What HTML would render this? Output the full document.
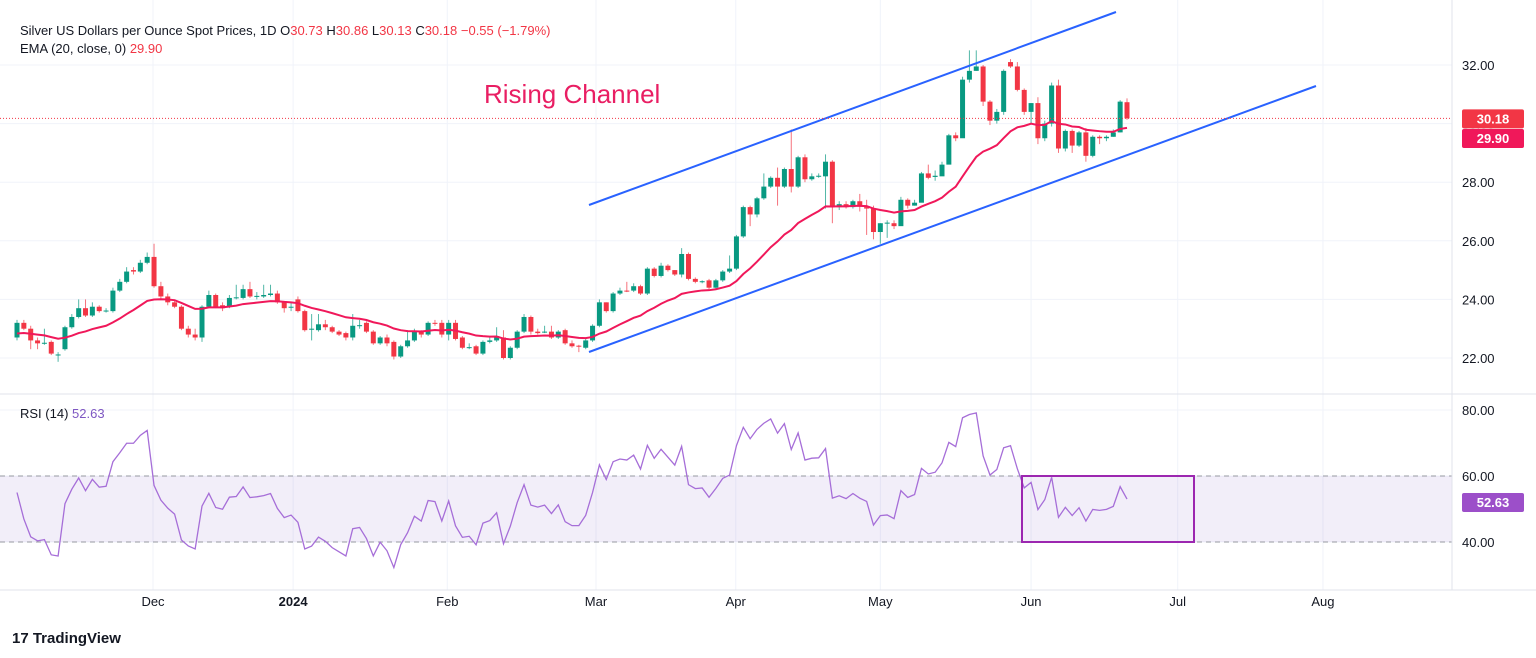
<!DOCTYPE html>
<html><head><meta charset="utf-8">
<style>
body{margin:0;background:#fff;font-family:"Liberation Sans",sans-serif;}
svg{display:block}
text{font-family:"Liberation Sans",sans-serif;}
</style></head>
<body>
<svg id="chart" width="1536" height="658" viewBox="0 0 1536 658">
<rect x="0" y="0" width="1536" height="658" fill="#fff"/>
<g id="grid"></g>
<g id="rsiband"></g>
<g id="candles"></g>
<g id="ema"></g>
<g id="rsi"></g>
<g id="overlay"></g>
<g id="axes"></g>
</svg>
<script>
// ---- data ----
const opens  =[22.7,23.2,23.0,22.6,22.5,22.55,22.1,22.3,23.05,23.4,23.7,23.45,23.75,23.6,23.6,24.3,24.6,25.0,24.95,25.25,25.45,24.45,24.1,23.9,23.75,23.0,22.8,22.7,23.75,24.15,23.8,23.75,24.05,24.05,24.35,24.1,24.1,24.15,24.2,23.9,23.72,24.0,23.6,23.0,22.95,23.15,23.05,22.9,22.85,22.7,23.1,23.2,22.9,22.5,22.7,22.55,22.05,22.4,22.6,22.9,22.8,23.2,23.2,22.8,23.2,22.7,22.35,22.4,22.15,22.55,22.6,22.7,22.0,22.35,22.9,23.4,22.9,22.88,22.9,22.7,22.95,22.5,22.42,22.35,22.6,23.1,23.9,23.6,24.2,24.3,24.3,24.45,24.2,25.05,24.8,25.15,25.0,24.85,25.55,24.7,24.6,24.65,24.4,24.65,24.95,25.05,26.15,27.15,26.9,27.45,27.85,28.15,27.85,28.45,27.85,28.85,28.1,28.2,28.2,28.7,27.15,27.25,27.15,27.35,27.15,27.1,26.3,26.6,26.6,26.5,27.4,27.2,27.3,28.3,28.18,28.2,28.6,29.6,29.5,31.5,31.8,31.95,30.75,30.1,30.4,32.1,31.95,31.15,30.4,30.7,29.5,30.0,31.3,29.15,29.75,29.25,29.7,28.9,29.55,29.5,29.55,29.7,30.73];
const closes =[23.2,23.0,22.6,22.5,22.52,22.15,22.12,23.05,23.4,23.7,23.45,23.75,23.6,23.62,24.3,24.6,24.95,24.95,25.25,25.45,24.45,24.1,23.9,23.75,23.0,22.8,22.7,23.75,24.15,23.75,23.7,24.05,24.07,24.35,24.1,24.12,24.15,24.2,23.9,23.7,23.75,23.6,22.95,23.0,23.15,23.05,22.9,22.8,22.7,23.1,23.12,22.9,22.5,22.7,22.5,22.05,22.4,22.6,22.9,22.8,23.2,23.18,22.8,23.2,22.65,22.35,22.37,22.15,22.55,22.6,22.75,22.0,22.35,22.9,23.4,22.9,22.85,22.9,22.7,22.9,22.5,22.4,22.4,22.6,23.1,23.9,23.6,24.2,24.3,24.28,24.45,24.2,25.05,24.8,25.15,25.0,24.85,25.55,24.7,24.6,24.62,24.4,24.65,24.95,25.05,26.15,27.15,26.9,27.45,27.85,28.15,27.85,28.45,27.85,28.85,28.1,28.2,28.22,28.7,27.15,27.25,27.15,27.35,27.2,27.1,26.3,26.6,26.62,26.5,27.4,27.2,27.3,28.3,28.15,28.22,28.6,29.6,29.5,31.5,31.8,31.95,30.75,30.1,30.4,31.8,31.95,31.15,30.4,30.7,29.5,30.0,31.3,29.15,29.75,29.25,29.7,28.9,29.55,29.5,29.55,29.7,30.75,30.18];
const highs  =[23.3,23.3,23.1,22.7,23.0,22.6,22.2,23.1,23.5,24.0,24.0,23.9,23.8,23.7,24.4,24.7,25.1,25.1,25.35,25.6,25.9,24.6,24.2,23.95,23.8,23.1,23.0,23.8,24.3,24.2,23.9,24.15,24.5,24.5,24.6,24.25,24.5,24.5,24.3,23.95,23.9,24.1,23.65,23.5,23.5,23.3,23.1,22.95,22.9,23.5,23.3,23.25,22.95,22.75,22.8,22.6,22.45,22.95,23.0,22.95,23.25,23.3,23.3,23.3,23.3,22.75,22.5,22.45,22.6,22.75,23.05,22.95,22.4,22.95,23.5,23.45,23.0,23.1,23.1,22.95,23.0,22.6,22.45,22.65,23.15,24.0,23.9,24.25,24.4,24.6,24.55,24.5,25.1,25.1,25.25,25.2,25.0,25.75,25.6,24.75,24.65,24.7,24.7,25.0,25.5,26.2,27.2,27.2,27.5,28.3,28.2,28.5,28.5,29.8,28.9,28.95,28.3,28.3,28.95,28.75,27.35,27.35,27.4,27.6,27.4,27.2,26.6,26.7,26.7,27.5,27.45,27.4,28.35,28.6,28.4,28.7,29.65,29.7,31.6,32.5,32.5,32.0,30.8,30.5,31.85,32.2,32.1,31.2,30.7,30.9,30.1,31.4,31.5,29.8,29.8,29.75,29.85,29.6,29.6,29.6,29.8,30.8,30.86];
const lows   =[22.6,22.95,22.3,22.3,22.45,22.1,21.87,22.25,23.0,23.35,23.4,23.4,23.55,23.55,23.55,24.25,24.55,24.85,24.9,25.2,24.4,24.0,23.8,23.7,22.95,22.7,22.6,22.55,23.7,23.7,23.6,23.7,24.0,24.0,24.05,24.0,24.05,24.1,23.85,23.55,23.6,23.55,22.9,22.6,22.9,22.95,22.85,22.75,22.6,22.6,23.0,22.85,22.45,22.45,22.4,21.95,22.0,22.35,22.55,22.7,22.75,23.1,22.7,22.6,22.6,22.3,22.3,22.1,22.1,22.5,22.55,21.95,21.95,22.3,22.85,22.8,22.8,22.85,22.65,22.65,22.45,22.35,22.2,22.3,22.55,23.05,23.55,23.55,24.15,24.25,24.25,24.15,24.15,24.75,24.75,24.95,24.8,24.75,24.65,24.55,24.55,24.35,24.35,24.6,24.9,25.0,26.1,26.5,26.8,27.4,27.8,27.2,27.8,27.65,27.8,28.0,28.05,28.15,27.1,26.6,27.05,27.1,27.1,27.0,26.2,26.05,25.9,26.1,26.4,27.15,27.1,27.2,28.05,28.1,28.05,28.5,29.4,29.4,30.2,31.4,31.8,30.6,29.95,30.0,30.3,31.9,31.1,30.3,30.0,29.3,29.4,29.9,29.0,29.05,29.0,29.2,28.7,28.85,29.3,29.4,29.55,29.7,30.13];
const priceTicks=[22,24,26,28,30,32];
const rsiTicks=[40,60,80];
const monthLabels=["Dec","2024","Feb","Mar","Apr","May","Jun","Jul","Aug"];
const monthDayIdx=[19.85,40.3,62.8,84.5,104.9,126,148,169.4,190.6]; // bar index of each month start

// ---- scales ----
const X0=17,X1=1127;
const n=closes.length;
function xs(i){return X0+i*(X1-X0)/(n-1);}
function yp(p){return 65+(32-p)*29.3;}
function yr(r){return 410+(80-r)*3.3;}
const NS="http://www.w3.org/2000/svg";
function mk(tag,attrs,parent){const e=document.createElementNS(NS,tag);for(const k in attrs)e.setAttribute(k,attrs[k]);parent.appendChild(e);return e;}
const G=id=>document.getElementById(id);

// grid
const grid=G('grid');
priceTicks.forEach(t=>{const l=mk('line',{x1:0,x2:1452,y1:yp(t),y2:yp(t),stroke:'#f0f3fa','stroke-width':1},grid);

});
rsiTicks.forEach(t=>{const l=mk('line',{x1:0,x2:1452,y1:yr(t),y2:yr(t),stroke:'#f0f3fa','stroke-width':1},grid);

});
monthDayIdx.forEach(i=>{const x=xs(i);const l=mk('line',{x1:x,x2:x,y1:0,y2:590,stroke:'#f0f3fa','stroke-width':1},grid);

});

// rsi band
const band=G('rsiband');
const bf=mk('rect',{x:0,y:yr(60),width:1452,height:yr(40)-yr(60),fill:'#7e57c2','fill-opacity':0.1},band);


[60,40].forEach(v=>{const l=mk('line',{x1:0,x2:1452,y1:yr(v),y2:yr(v),stroke:'#9598a1','stroke-dasharray':'5,4','stroke-width':1},band);

});

// candles
const cg=G('candles');
for(let i=0;i<n;i++){
  const up=closes[i]>=opens[i];const col=up?'#089981':'#f23645';const x=xs(i);
  const w=mk('line',{x1:x,x2:x,y1:yp(highs[i]),y2:yp(lows[i]),stroke:col,'stroke-opacity':0.7,'stroke-width':1},cg);
  
  
  const t=yp(Math.max(opens[i],closes[i])),b=yp(Math.min(opens[i],closes[i]));
  const r=mk('rect',{x:x-2.5,y:t,width:5,height:Math.max(1,b-t),fill:col},cg);
  
  
}
// EMA 20
const k=2/21;let e=22.8;const ema=[];
closes.forEach(c=>{e=c*k+e*(1-k);ema.push(e);});
const ep=mk('polyline',{points:ema.map((v,i)=>xs(i)+','+yp(v)).join(' '),fill:'none',stroke:'#f0185a','stroke-width':2},G('ema'));


// RSI 14
let ag=0.12,al=0.12;const rsi=[55];
for(let i=1;i<n;i++){const d=closes[i]-closes[i-1];ag=(ag*13+Math.max(d,0))/14;al=(al*13+Math.max(-d,0))/14;rsi.push(100-100/(1+ag/al));}
const rp=mk('polyline',{points:rsi.map((v,i)=>xs(i)+','+yr(v)).join(' '),fill:'none',stroke:'#a66ed8','stroke-width':1.3},G('rsi'));



// overlays
const ov=G('overlay');
const up1=mk('line',{x1:589,y1:205,x2:1116,y2:12,stroke:'#2962ff','stroke-width':2},ov);


const lo1=mk('line',{x1:589,y1:352,x2:1316,y2:86,stroke:'#2962ff','stroke-width':2},ov);


const pl=mk('line',{x1:0,x2:1452,y1:yp(30.18),y2:yp(30.18),stroke:'#f23645','stroke-dasharray':'1,2','stroke-width':1},ov);


const box=mk('rect',{x:1022,y:yr(60),width:172,height:yr(40)-yr(60),fill:'none',stroke:'#9c27b0','stroke-width':2},ov);


const rc=mk('text',{x:484,y:103,'font-size':26,fill:'#e91e63'},ov);rc.textContent='Rising Channel';



// axes
const ax=G('axes');
const sep=mk('line',{x1:0,x2:1536,y1:394,y2:394,stroke:'#e0e3eb','stroke-width':1},ax);


const sep2=mk('line',{x1:1452,x2:1452,y1:0,y2:590,stroke:'#e0e3eb','stroke-width':1},ax);


const sep3=mk('line',{x1:0,x2:1536,y1:590,y2:590,stroke:'#e0e3eb','stroke-width':1},ax);


priceTicks.forEach(t=>{const tx=mk('text',{x:1462,y:yp(t)+5,'font-size':13,fill:'#131722'},ax);tx.textContent=t.toFixed(2);

});
rsiTicks.forEach(t=>{const tx=mk('text',{x:1462,y:yr(t)+5,'font-size':13,fill:'#131722'},ax);tx.textContent=t.toFixed(2);

});
monthLabels.forEach((m,j)=>{const tx=mk('text',{x:xs(monthDayIdx[j]),y:606,'font-size':13,fill:'#131722','text-anchor':'middle','font-weight':m==='2024'?'bold':'normal'},ax);tx.textContent=m;

});
function tag(y,txt,col,name){const r=mk('rect',{x:1462,y:y-9,width:62,height:19,rx:2,fill:col},ax);


const t=mk('text',{x:1493,y:y+5,'font-size':13,fill:'#fff','text-anchor':'middle','font-weight':'bold'},ax);t.textContent=txt;}
tag(yp(30.18),'30.18','#f23645','last-price-tag');
tag(138,'29.90','#f0185a','ema-value-tag');
tag(502,'52.63','#9c4fc9','rsi-value-tag');

// header
const h1=mk('text',{x:20,y:35,'font-size':13,fill:'#131722'},ax);
h1.innerHTML='Silver US Dollars per Ounce Spot Prices, 1D  O<tspan fill="#f23645">30.73</tspan> H<tspan fill="#f23645">30.86</tspan> L<tspan fill="#f23645">30.13</tspan> C<tspan fill="#f23645">30.18</tspan> <tspan fill="#f23645">−0.55 (−1.79%)</tspan>';


const h2=mk('text',{x:20,y:53,'font-size':13,fill:'#131722'},ax);
h2.innerHTML='EMA (20, close, 0) <tspan fill="#f23645">29.90</tspan>';


const h3=mk('text',{x:20,y:418,'font-size':13,fill:'#131722'},ax);
h3.innerHTML='RSI (14) <tspan fill="#7e57c2">52.63</tspan>';


const logo=mk('text',{x:12,y:643,'font-size':15,fill:'#131722','font-weight':'bold'},ax);
logo.textContent='17 TradingView';


</script>
</body></html>
